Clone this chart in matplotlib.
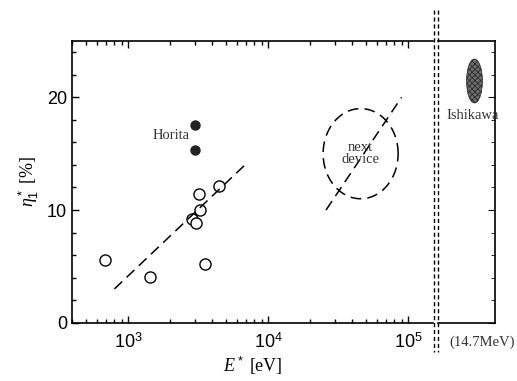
import matplotlib
matplotlib.use("Agg")
import matplotlib.pyplot as plt
import numpy as np
from matplotlib.patches import Ellipse
from matplotlib.lines import Line2D
from matplotlib.ticker import MultipleLocator, FixedLocator, NullFormatter, LogLocator

plt.rcParams['font.family'] = 'Liberation Sans'
plt.rcParams['mathtext.fontset'] = 'custom'
plt.rcParams['mathtext.rm'] = 'Liberation Sans'
plt.rcParams['mathtext.it'] = 'Liberation Serif:italic'
plt.rcParams['hatch.linewidth'] = 0.6

# data
open_E = [690, 1440, 2880, 3040, 3270, 3230, 4490, 3570]
open_eta = [5.6, 4.07, 9.24, 8.88, 9.97, 11.45, 12.12, 5.19]
horita_E = [3025, 3025]
horita_eta = [17.56, 15.37]
fit1_E = [800, 6850]
fit1_eta = [3.0, 14.0]
fit2_E = [26000, 90000]
fit2_eta = [10.0, 20.0]
next_center_logE = 4.662
next_center_eta = 15.0
next_half_logE = 0.268
next_half_eta = 4.0
ishikawa_pos = 0.64
ishikawa_eta = 21.45
ishikawa_w = 0.28
ishikawa_h = 3.9

fig = plt.figure(figsize=(5.17, 3.81), dpi=100)
ax1 = fig.add_axes([72/517, 58.3/381, (433-72)/517, (340-58.3)/381])
ax2 = fig.add_axes([438/517, 58.3/381, (495-438)/517, (340-58.3)/381])

ax1.set_xscale('log')
ax1.set_xlim(10**2.6, 10**5.179)
ax1.set_ylim(0, 25)
ax2.set_xlim(0, 1)
ax2.set_ylim(0, 25)

ax1.plot(open_E, open_eta, 'o', mfc='white', mec='black', ms=8, mew=1.0)
ax1.plot(horita_E, horita_eta, 'o', color='#222222', ms=6.5)
ax1.plot(fit1_E, fit1_eta, color='black', lw=1.1, dashes=(7, 4))
ax1.plot(fit2_E, fit2_eta, color='black', lw=1.1, dashes=(7, 4))

t = np.linspace(0, 2*np.pi, 300)
ax1.plot(10**(next_center_logE + next_half_logE*np.cos(t)),
         next_center_eta + next_half_eta*np.sin(t),
         color='black', lw=1.1, dashes=(7, 4))

ax1.text(2750, 16.6, 'Horita', family='Liberation Serif', fontsize=10.5,
         ha='right', va='center', color='#333333')
ax1.text(10**4.66, 15.0, 'next\ndevice', family='Liberation Serif', fontsize=10.5,
         ha='center', va='center', color='#333333', linespacing=0.95)

ax2.add_patch(Ellipse((ishikawa_pos, ishikawa_eta), ishikawa_w, ishikawa_h,
                      facecolor='#6e6e6e', edgecolor='#2a2a2a', hatch='xxxxxx', lw=0.5))
ax2.text(0.6, 18.4, 'Ishikawa', family='Liberation Serif', fontsize=10.5,
         ha='center', va='center', color='#333333')

for s in ['top', 'bottom', 'left']:
    ax1.spines[s].set_linewidth(1.2)
ax1.spines['right'].set_visible(False)
for s in ['top', 'bottom', 'right']:
    ax2.spines[s].set_linewidth(1.2)
ax2.spines['left'].set_visible(False)

ax1.yaxis.set_major_locator(FixedLocator([0, 10, 20]))
ax1.yaxis.set_minor_locator(MultipleLocator(2))
ax1.set_xticks([1e3, 1e4, 1e5])
ax1.set_xticklabels([r'$10^3$', r'$10^4$', r'$10^5$'])
ax1.xaxis.set_minor_locator(LogLocator(base=10, subs=np.arange(2, 10), numticks=20))
ax1.xaxis.set_minor_formatter(NullFormatter())
ax1.tick_params(which='both', direction='in', top=True, right=False, labelsize=13)
ax1.tick_params(which='major', length=5, width=1.0)
ax1.tick_params(which='minor', length=3, width=1.0)
ax1.tick_params(axis='x', which='major', pad=7)

ax2.set_xticks([])
ax2.yaxis.set_major_locator(FixedLocator([0, 10, 20]))
ax2.yaxis.set_minor_locator(MultipleLocator(2))
ax2.yaxis.set_major_formatter(NullFormatter())
ax2.tick_params(which='both', direction='in', left=False, right=True, labelleft=False)
ax2.tick_params(which='major', length=5)
ax2.tick_params(which='minor', length=3)

ax1.set_xlabel(r'$E^*$ [eV]', family='Liberation Serif', fontsize=13, labelpad=2)
ax1.set_ylabel(r'$\eta_1^*$ [%]', family='Liberation Serif', fontsize=13, labelpad=4)

fig.text(482/517, 1-342/381, '(14.7MeV)', family='Liberation Serif', fontsize=10.5,
         ha='center', va='center', color='#333333')

# break markers
for xp in [433.5, 437.5]:
    fig.add_artist(Line2D([xp/517, xp/517], [1-10/381, 1-352/381], transform=fig.transFigure,
                          color='black', lw=1.0, dashes=(3, 2)))

fig.savefig('out.png', dpi=100)
